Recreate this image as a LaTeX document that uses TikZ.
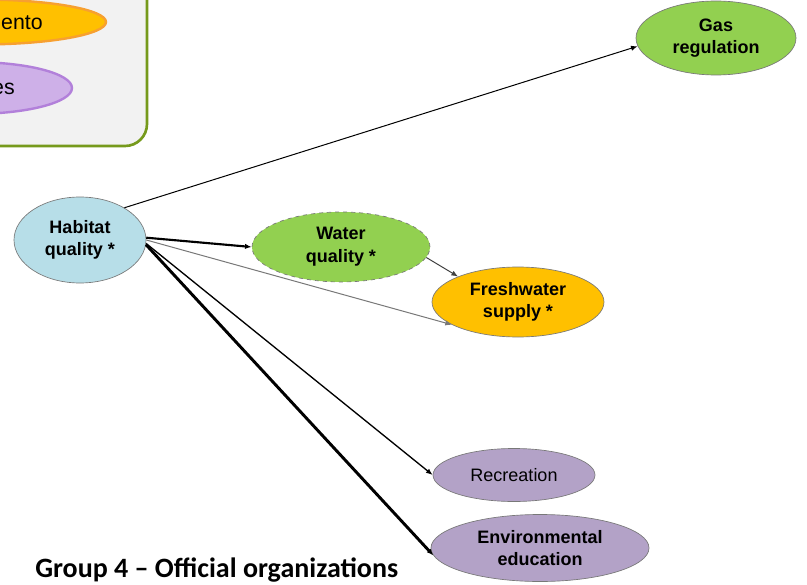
\documentclass[tikz,border=0pt]{standalone}
\usepackage{fontspec}
\setmainfont{Liberation Sans}
\newfontfamily\titlefont{Carlito}
\usetikzlibrary{shapes.geometric,arrows.meta}
\definecolor{legbg}{RGB}{242,242,242}
\definecolor{legborder}{RGB}{118,154,28}
\definecolor{orfill}{RGB}{255,192,0}
\definecolor{orborder}{RGB}{247,160,48}
\definecolor{lilfill}{RGB}{206,176,232}
\definecolor{lilborder}{RGB}{178,128,218}
\definecolor{hbfill}{RGB}{183,222,232}
\definecolor{grfill}{RGB}{146,208,80}
\definecolor{pufill}{RGB}{179,162,199}
\definecolor{nborder}{RGB}{120,120,120}
\tikzset{
  es/.style={ellipse, draw=nborder, line width=0.5pt, inner sep=0pt, align=center,
    font=\fontsize{13.5}{17}\selectfont\bfseries},
  link/.style={draw=black, line width=0.75pt, -{Latex[length=5pt,width=4pt]}},
}
\begin{document}
\begin{tikzpicture}[x=0.75pt,y=-0.75pt]
\useasboundingbox (0,0) rectangle (807,585);
\fill[white] (0,0) rectangle (807,585);
\begin{scope}
\clip (0,0) rectangle (807,585);
\draw[fill=legbg, draw=legborder, line width=2pt, rounded corners=16.5pt] (-200,-100) rectangle (147,146);
\node[ellipse, fill=orfill, draw=orborder, line width=1.8pt, minimum width=189pt, minimum height=33.75pt, inner sep=0pt] (leg1) at (-20,22) {};
\node[anchor=east, inner sep=0pt, font=\fontsize{16}{19}\selectfont] (leg1t) at (43,23) {ento};
\node[ellipse, fill=lilfill, draw=lilborder, line width=1.8pt, minimum width=150pt, minimum height=39pt, inner sep=0pt] (leg2) at (-28,88) {};
\node[anchor=east, inner sep=0pt, font=\fontsize{16}{19}\selectfont] (leg2t) at (15,89) {es};
\end{scope}

\node[es, fill=hbfill, minimum width=99pt, minimum height=64.5pt] (hab) at (80,240) {Habitat\\quality *};
\node[es, fill=grfill, draw=nborder, dashed, minimum width=133.5pt, minimum height=52.5pt] (wat) at (341,247) {Water\\quality *};
\node[es, fill=orfill, minimum width=129pt, minimum height=52.5pt] (fw) at (518,302) {Freshwater\\supply *};
\node[es, fill=grfill, minimum width=120pt, minimum height=55.5pt] (gas) at (716,38) {Gas\\regulation};
\node[es, fill=pufill, minimum width=121.5pt, minimum height=39.75pt, font=\fontsize{13.5}{17}\selectfont] (rec) at (514,475) {Recreation};
\node[es, fill=pufill, minimum width=163.5pt, minimum height=50.25pt] (env) at (540,548) {Environmental\\education};

\draw[link] (hab.36) -- (gas.186);
\draw[link, line width=1.6pt] (hab.2) -- (wat.west);
\draw[link, draw=nborder] (hab.0) -- (fw.199);
\draw[link, draw=darkgray] (wat.-7) -- (fw.157);
\draw[link, line width=1pt] (hab.-3) -- (rec.west);
\draw[link, line width=2.2pt] (hab.-4) -- (env.184);

\node[anchor=base west, inner sep=0pt, font=\titlefont\fontsize{21}{25}\selectfont\bfseries] (title) at (35,577) {Group 4 – Official organizations};
\end{tikzpicture}
\end{document}
